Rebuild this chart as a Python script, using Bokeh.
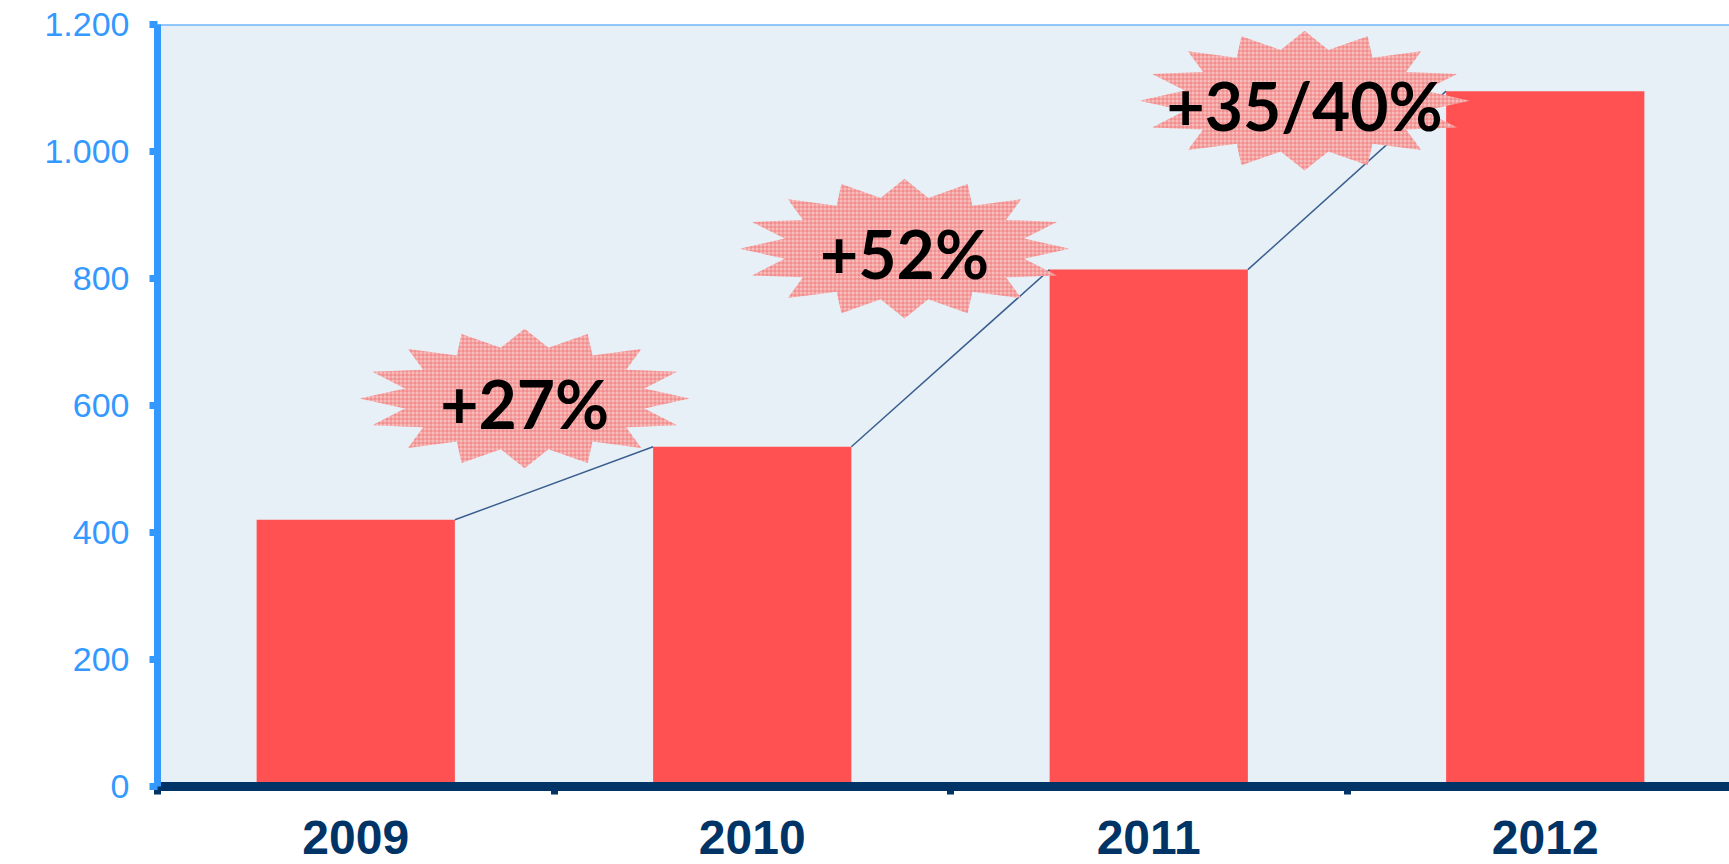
import numpy as np
from bokeh.plotting import figure
from bokeh.models import Range1d, FixedTicker, Span
from bokeh.core.properties import value
from bokeh.embed import file_html
from bokeh.resources import INLINE

# ---- data ----
years = ["2009", "2010", "2011", "2012"]
sales = [420, 535, 814, 1095]
growth_labels = ["+27%", "+52%", "+35/40%"]
burst_x = [0.926, 1.884, 2.893]
burst_y = [611, 847, 1080]
y_ticks = [0, 200, 400, 600, 800, 1000, 1200]

# ---- layout constants ----
CAT_PX = 396.5
FRAME_W = 1572
BAR_W = 0.5

p = figure(width=1729, height=864, output_backend="svg", toolbar_location=None,
           x_range=Range1d(0, FRAME_W / CAT_PX), y_range=Range1d(0, 1200),
           min_border_left=157, min_border_right=0, min_border_top=24,
           min_border_bottom=78,
           background_fill_color="#E8F0F7", border_fill_color="white",
           outline_line_color=None)
p.grid.visible = False

xc = [i + 0.5 for i in range(len(years))]
p.vbar(x=xc, top=sales, width=BAR_W, fill_color="#FF5151", line_color=None)

# connecting lines from right top corner of bar to left top corner of next
x0 = [i + 0.5 + BAR_W / 2 for i in range(len(years) - 1)]
x1 = [i + 1.5 - BAR_W / 2 for i in range(len(years) - 1)]
p.segment(x0=x0, y0=sales[:-1], x1=x1, y1=sales[1:], line_color="#3A5F8F",
          line_width=1.5)

# starbursts
n_pts = 16
rx, ry = 0.416, 110
ang = np.pi / 2 + np.arange(2 * n_pts) * np.pi / n_pts
rad = np.where(np.arange(2 * n_pts) % 2 == 0, 1.0, 0.74)
xs = [list(cx + rx * rad * np.cos(ang)) for cx in burst_x]
ys = [list(cy + ry * rad * np.sin(ang)) for cy in burst_y]
p.patches(xs, ys, fill_color="#F6BDBD", line_color=None,
          hatch_pattern="+", hatch_color="#EE5F5F", hatch_scale=4,
          hatch_weight=1, hatch_alpha=0.6)

p.text(x=burst_x, y=[v - 8 for v in burst_y], text=growth_labels,
       text_font=value("Lato"), text_font_style="bold", text_font_size="66px",
       text_align="center", text_baseline="middle", text_color="black")

# top border line
p.add_layout(Span(location=1200, dimension="width", line_color="#3399FF",
                  line_width=2))

# y axis
ya = p.yaxis[0]
ya.ticker = FixedTicker(ticks=y_ticks)
ya.major_label_overrides = {t: f"{t:,}".replace(",", ".") for t in y_ticks}
ya.axis_line_color = "#3399FF"
ya.axis_line_width = 7
ya.major_tick_line_color = "#3399FF"
ya.major_tick_line_width = 7
ya.major_tick_in = 0
ya.major_tick_out = 8
ya.minor_tick_line_color = None
ya.major_label_text_color = "#3399FF"
ya.major_label_text_font = "Liberation Sans"
ya.major_label_text_font_size = "34px"
ya.major_label_standoff = 20

# x axis: labels at category centres, tick marks at boundaries
xa = p.xaxis[0]
xa.ticker = FixedTicker(ticks=xc, minor_ticks=list(range(len(years) + 1)))
xa.major_label_overrides = {x: y for x, y in zip(xc, years)}
xa.axis_line_color = "#003366"
xa.axis_line_width = 9
xa.major_tick_line_color = None
xa.major_tick_out = 8
xa.major_tick_in = 0
xa.minor_tick_line_color = "#003366"
xa.minor_tick_line_width = 7
xa.minor_tick_in = 0
xa.minor_tick_out = 8
xa.major_label_text_font = "Liberation Sans"
xa.major_label_text_font_style = "bold"
xa.major_label_text_font_size = "48px"
xa.major_label_text_line_height = 0.5
xa.major_label_text_color = "#003366"
xa.major_label_standoff = 26

open("out.html", "w").write(file_html(p, INLINE))
